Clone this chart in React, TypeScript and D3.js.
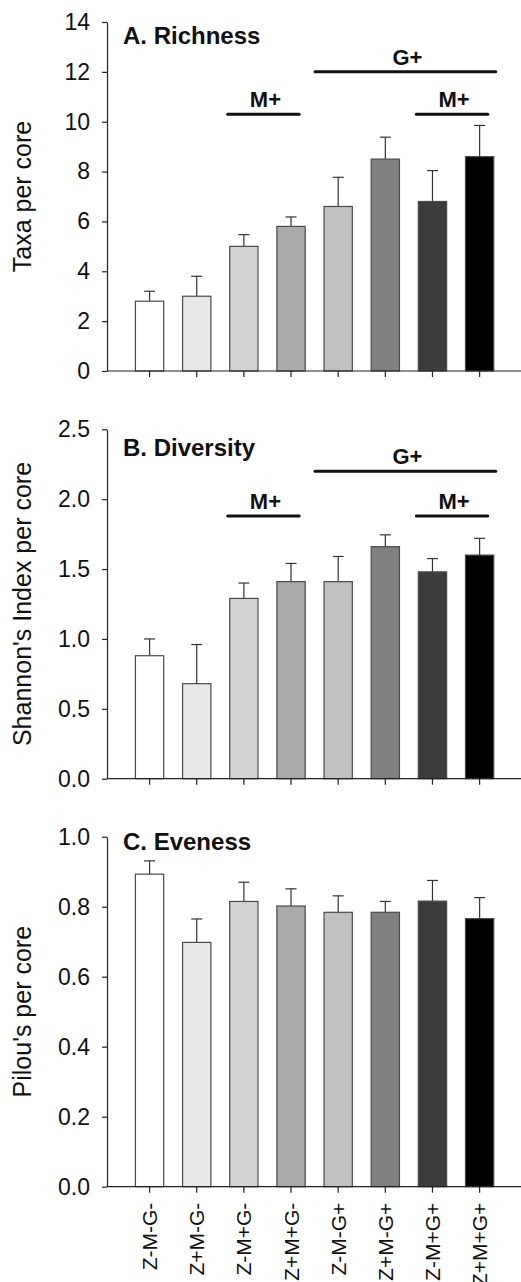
import * as d3 from "d3";
import { useEffect, useRef } from "react";

const CATEGORIES = ["Z-M-G-", "Z+M-G-", "Z-M+G-", "Z+M+G-", "Z-M-G+", "Z+M-G+", "Z-M+G+", "Z+M+G+"];
const FILLS = ["#ffffff", "#e8e8e8", "#d3d3d3", "#aaaaaa", "#c0c0c0", "#808080", "#3c3c3c", "#000000"];

const RICHNESS = [2.8, 3.0, 5.0, 5.8, 6.6, 8.5, 6.8, 8.6];
const RICHNESS_SE = [0.4, 0.8, 0.47, 0.38, 1.17, 0.88, 1.24, 1.25];

const DIVERSITY = [0.88, 0.68, 1.29, 1.41, 1.41, 1.66, 1.48, 1.6];
const DIVERSITY_SE = [0.12, 0.28, 0.11, 0.13, 0.18, 0.085, 0.095, 0.12];

const EVENNESS = [0.893, 0.698, 0.815, 0.802, 0.784, 0.784, 0.816, 0.766];
const EVENNESS_SE = [0.038, 0.067, 0.055, 0.049, 0.047, 0.031, 0.059, 0.06];

const RICHNESS_TICKS = [0, 2, 4, 6, 8, 10, 12, 14];
const DIVERSITY_TICKS = [0, 0.5, 1.0, 1.5, 2.0, 2.5];
const EVENNESS_TICKS = [0, 0.2, 0.4, 0.6, 0.8, 1.0];

// significance bars: label, first & last category, height in data units
const RICHNESS_BRACKETS = [
  { label: "M+", from: "Z-M+G-", to: "Z+M+G-", at: 10.3 },
  { label: "G+", from: "Z-M-G+", to: "Z+M+G+", at: 12.0 },
  { label: "M+", from: "Z-M+G+", to: "Z+M+G+", at: 10.3 },
];
const DIVERSITY_BRACKETS = [
  { label: "M+", from: "Z-M+G-", to: "Z+M+G-", at: 1.88 },
  { label: "G+", from: "Z-M-G+", to: "Z+M+G+", at: 2.2 },
  { label: "M+", from: "Z-M+G+", to: "Z+M+G+", at: 1.88 },
];

const FONT = "'Liberation Sans', Arial, Helvetica, sans-serif";

export default function App() {
  const ref = useRef<SVGSVGElement | null>(null);

  useEffect(() => {
    if (!ref.current) return;
    const svg = d3.select(ref.current);
    svg.selectAll("*").remove();

    const width = 521;
    const left = 107;
    const x = d3.scaleBand<string>().domain(CATEGORIES).range([126, 503.2]).paddingInner(0.4).paddingOuter(0.2);
    const bw = x.bandwidth();

    const panels = [
      { title: "A. Richness", ylabel: "Taxa per core", values: RICHNESS, se: RICHNESS_SE, ticks: RICHNESS_TICKS,
        fmt: d3.format("d"), bottom: 371, top: 22, titleY: 44, brackets: RICHNESS_BRACKETS },
      { title: "B. Diversity", ylabel: "Shannon's Index per core", values: DIVERSITY, se: DIVERSITY_SE, ticks: DIVERSITY_TICKS,
        fmt: d3.format(".1f"), bottom: 778.7, top: 429.3, titleY: 456, brackets: DIVERSITY_BRACKETS },
      { title: "C. Eveness", ylabel: "Pilou's per core", values: EVENNESS, se: EVENNESS_SE, ticks: EVENNESS_TICKS,
        fmt: d3.format(".1f"), bottom: 1186.7, top: 836.7, titleY: 850, brackets: [] as typeof RICHNESS_BRACKETS },
    ];

    panels.forEach((p, pi) => {
      const g = svg.append("g");
      const y = d3.scaleLinear().domain([0, d3.max(p.ticks) as number]).range([p.bottom, p.top]);
      const rows = CATEGORIES.map((c, i) => ({ c, v: p.values[i], e: p.se[i], fill: FILLS[i] }));

      // error bars (upper only)
      const eb = g.append("g").attr("stroke", "#333").attr("stroke-width", 1.2);
      eb.selectAll("line.v").data(rows).join("line").attr("class", "v")
        .attr("x1", (d) => (x(d.c) ?? 0) + bw / 2).attr("x2", (d) => (x(d.c) ?? 0) + bw / 2)
        .attr("y1", (d) => y(d.v)).attr("y2", (d) => y(d.v + d.e));
      eb.selectAll("line.cap").data(rows).join("line").attr("class", "cap")
        .attr("x1", (d) => (x(d.c) ?? 0) + bw / 2 - 5.5).attr("x2", (d) => (x(d.c) ?? 0) + bw / 2 + 5.5)
        .attr("y1", (d) => y(d.v + d.e)).attr("y2", (d) => y(d.v + d.e));

      g.append("g").selectAll("rect").data(rows).join("rect")
        .attr("x", (d) => x(d.c) ?? 0)
        .attr("y", (d) => y(d.v))
        .attr("width", bw)
        .attr("height", (d) => p.bottom - y(d.v))
        .attr("fill", (d) => d.fill)
        .attr("stroke", "#4a4a4a")
        .attr("stroke-width", 1.2);

      // y axis
      const ay = d3.axisLeft(y).tickValues(p.ticks).tickFormat(p.fmt as any).tickSize(5).tickSizeOuter(0).tickPadding(12);
      const gy = g.append("g").attr("transform", `translate(${left},0)`).call(ay as any);
      gy.selectAll("path, line").attr("stroke", "#222").attr("stroke-width", 1.2);
      gy.selectAll("text").attr("font-family", FONT).attr("font-size", 23).attr("fill", "#111");

      // x axis
      const ax = d3.axisBottom(x).tickSize(6).tickSizeOuter(0).tickPadding(0)
        .tickFormat((d) => (pi === 2 ? d : "") as any);
      const gx = g.append("g").attr("transform", `translate(0,${p.bottom})`).call(ax as any);
      gx.select(".domain").remove();
      gx.append("line").attr("x1", left).attr("x2", width).attr("y1", 0).attr("y2", 0);
      gx.selectAll("path, line").attr("stroke", "#222").attr("stroke-width", 1.2);
      gx.selectAll("text")
        .attr("font-family", FONT).attr("font-size", 21).attr("fill", "#111")
        .attr("transform", "rotate(-90)")
        .attr("text-anchor", "end")
        .attr("x", -16).attr("y", 0).attr("dy", "0.36em");

      // panel title
      g.append("text").attr("x", 123).attr("y", p.titleY)
        .attr("font-family", FONT).attr("font-weight", "bold").attr("font-size", 24).attr("fill", "#111")
        .text(p.title);

      // y label
      g.append("text")
        .attr("transform", `translate(31,${(p.top + p.bottom) / 2}) rotate(-90)`)
        .attr("text-anchor", "middle")
        .attr("font-family", FONT).attr("font-size", 25).attr("fill", "#111")
        .text(p.ylabel);

      // significance bars
      p.brackets.forEach((b) => {
        const wide = b.label === "G+";
        const x1 = (x(b.from) ?? 0) - (wide ? 9 : 2);
        const x2 = (x(b.to) ?? 0) + bw + (wide ? 2 : -6);
        g.append("line").attr("x1", x1).attr("x2", x2).attr("y1", y(b.at)).attr("y2", y(b.at))
          .attr("stroke", "#111").attr("stroke-width", 3).attr("stroke-linecap", "round");
        g.append("text").attr("x", (x1 + x2) / 2 + 2).attr("y", y(b.at) - 7)
          .attr("text-anchor", "middle")
          .attr("font-family", FONT).attr("font-weight", "bold").attr("font-size", 22).attr("fill", "#111")
          .text(b.label);
      });
    });
  }, []);

  return (
    <svg
      ref={ref}
      width={521}
      height={1282}
      style={{ position: "absolute", left: 0, top: 0, background: "#fff" }}
    />
  );
}
